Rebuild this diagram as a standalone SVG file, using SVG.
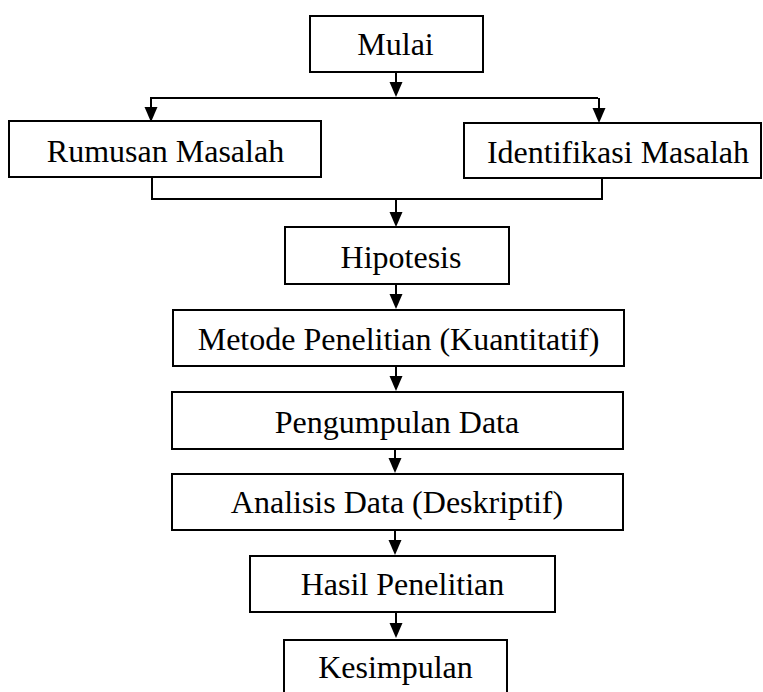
<svg xmlns="http://www.w3.org/2000/svg" width="763" height="692" viewBox="0 0 763 692">
<style>
.box{fill:#fff;stroke:#000;stroke-width:2}
.lbl{font-family:"Liberation Serif","Times New Roman",serif;font-size:32px;fill:#000;text-anchor:middle}
.ln{fill:none;stroke:#000;stroke-width:2}
.head{fill:#000}
</style>
<rect width="763" height="692" fill="#fff"/>
<g id="connectors">
<path class="ln" d="M396,72 V84"/><path class="head" d="M389.5,82 H402.5 L396,97 Z"/>
<path class="ln" d="M150,98 H598"/>
<path class="ln" d="M151,98 V109"/><path class="head" d="M144.5,107 H157.5 L151,122 Z"/>
<path class="ln" d="M599,98 V110"/><path class="head" d="M592.5,108 H605.5 L599,123 Z"/>
<path class="ln" d="M152,177 V199 H602 V178"/>
<path class="ln" d="M396,199 V214"/><path class="head" d="M389.5,212 H402.5 L396,227 Z"/>
<path class="ln" d="M396,284 V296"/><path class="head" d="M389.5,294 H402.5 L396,309 Z"/>
<path class="ln" d="M396,366 V378"/><path class="head" d="M389.5,376 H402.5 L396,391 Z"/>
<path class="ln" d="M395,449 V460"/><path class="head" d="M388.5,458 H401.5 L395,473 Z"/>
<path class="ln" d="M395,530 V542"/><path class="head" d="M388.5,540 H401.5 L395,555 Z"/>
<path class="ln" d="M396,612 V625"/><path class="head" d="M389.5,623 H402.5 L396,638 Z"/>
</g>
<g id="mulai"><rect class="box" x="310" y="16" width="173" height="56"/><text class="lbl" x="395.5" y="55">Mulai</text></g>
<g id="rumusan"><rect class="box" x="9" y="121" width="312" height="56"/><text class="lbl" x="165.5" y="162">Rumusan Masalah</text></g>
<g id="identifikasi"><rect class="box" x="464" y="123" width="297" height="55"/><text class="lbl" x="618" y="163">Identifikasi Masalah</text></g>
<g id="hipotesis"><rect class="box" x="285" y="227" width="224" height="57"/><text class="lbl" x="401" y="268">Hipotesis</text></g>
<g id="metode"><rect class="box" x="173" y="310" width="451" height="56"/><text class="lbl" x="398.5" y="350">Metode Penelitian (Kuantitatif)</text></g>
<g id="pengumpulan"><rect class="box" x="172" y="392" width="451" height="57"/><text class="lbl" x="397" y="433">Pengumpulan Data</text></g>
<g id="analisis"><rect class="box" x="172" y="474" width="451" height="56"/><text class="lbl" x="397" y="513">Analisis Data (Deskriptif)</text></g>
<g id="hasil"><rect class="box" x="250" y="556" width="305" height="56"/><text class="lbl" x="402.5" y="595">Hasil Penelitian</text></g>
<g id="kesimpulan"><rect class="box" x="284" y="640" width="223" height="60"/><text class="lbl" x="395.5" y="678">Kesimpulan</text></g>
</svg>
